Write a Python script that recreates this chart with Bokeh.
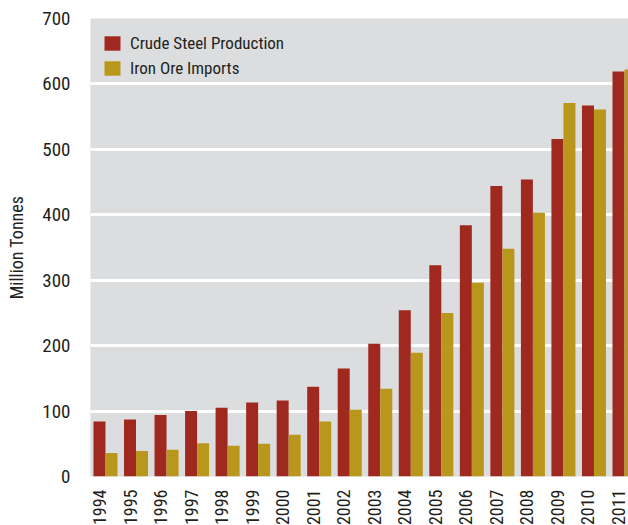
import math
from bokeh.plotting import figure
from bokeh.models import ColumnDataSource, FixedTicker, Legend, LegendItem
from bokeh.embed import file_html
from bokeh.resources import INLINE

years = [1994, 1995, 1996, 1997, 1998, 1999, 2000, 2001, 2002,
         2003, 2004, 2005, 2006, 2007, 2008, 2009, 2010, 2011]
crude_steel = [84, 87, 94, 100, 105, 113, 116, 137, 165,
               203, 254, 323, 384, 444, 454, 516, 567, 619]
iron_ore = [36, 39, 41, 51, 47, 50, 64, 84, 102,
            134, 189, 250, 296, 348, 403, 571, 561, 622]
y_ticks = [0, 100, 200, 300, 400, 500, 600, 700]

RED = "#A0291F"
GOLD = "#B9961C"
FONT = "'Roboto Condensed', Roboto"
TXT = "#231f20"

off = 0.197
bw = 0.393

src = ColumnDataSource(dict(
    xr=[y - off for y in years],
    xg=[y + off for y in years],
    steel=crude_steel,
    ore=iron_ore,
))

p = figure(frame_width=538, frame_height=458, output_backend="svg", toolbar_location=None,
           x_range=(1993.509, 2011.131), y_range=(0, 700),
           min_border_left=90, min_border_right=0, min_border_top=18,
           min_border_bottom=40)
p.background_fill_color = "#DCDDDF"
p.border_fill_color = "white"
p.outline_line_color = None

r1 = p.vbar(x="xr", top="steel", width=bw, source=src, fill_color=RED, line_color=None)
r2 = p.vbar(x="xg", top="ore", width=bw, source=src, fill_color=GOLD, line_color=None)

# grids
p.xgrid.grid_line_color = None
p.ygrid.grid_line_color = "white"
p.ygrid.grid_line_width = 3
p.ygrid.ticker = FixedTicker(ticks=y_ticks)

# y axis
p.yaxis.ticker = FixedTicker(ticks=y_ticks)
p.yaxis.axis_line_color = None
p.yaxis.major_tick_line_color = None
p.yaxis.minor_tick_line_color = None
p.yaxis.major_label_text_font = FONT
p.yaxis.major_label_text_font_size = "19px"
p.yaxis.major_label_text_color = TXT
p.yaxis.major_label_standoff = 14
p.yaxis.axis_label = "Million Tonnes"
p.yaxis.axis_label_text_font = FONT
p.yaxis.axis_label_text_font_size = "18px"
p.yaxis.axis_label_text_font_style = "normal"
p.yaxis.axis_label_text_color = TXT
p.yaxis.axis_label_standoff = 12

# x axis
tick_pos = [y - off for y in years]
p.xaxis.ticker = FixedTicker(ticks=tick_pos)
p.xaxis.major_label_overrides = {t: str(y) for t, y in zip(tick_pos, years)}
p.xaxis.major_label_orientation = math.pi / 2
p.xaxis.axis_line_color = None
p.xaxis.major_tick_line_color = None
p.xaxis.minor_tick_line_color = None
p.xaxis.major_label_text_font = FONT
p.xaxis.major_label_text_font_size = "18px"
p.xaxis.major_label_text_color = TXT
p.xaxis.major_label_standoff = 7

legend = Legend(items=[
    LegendItem(label="Crude Steel Production", renderers=[r1]),
    LegendItem(label="Iron Ore Imports", renderers=[r2]),
], location=(12, 398))
legend.background_fill_alpha = 0
legend.border_line_color = None
legend.padding = 0
legend.margin = 0
legend.glyph_width = 20
legend.glyph_height = 18
legend.label_height = 20
legend.spacing = 5
legend.label_standoff = 8
legend.label_text_font = FONT
legend.label_text_font_size = "17px"
legend.label_text_color = TXT
p.add_layout(legend, "center")

open("out.html", "w").write(file_html(p, INLINE))
